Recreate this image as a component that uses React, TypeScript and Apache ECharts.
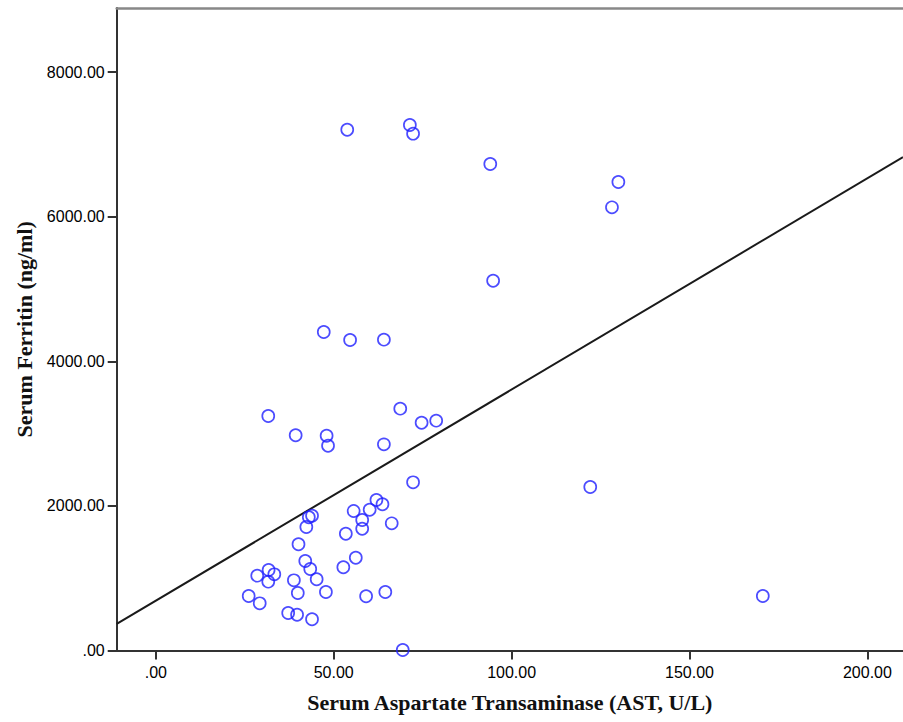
import React, { useEffect, useRef } from "react";
import * as echarts from "echarts";

const X_TICKS = [0, 50, 100, 150, 200];
const Y_TICKS = [0, 2000, 4000, 6000, 8000];
const X_MIN = -11;
const X_MAX = 210;
const Y_MIN = 0;
const Y_MAX = 8885;

const AST = [
  53.8, 71.4, 72.3, 94.0, 130.0, 128.2, 94.8, 47.2, 54.6, 64.1, 31.6, 39.3, 48.0, 48.4, 64.1,
  68.7, 74.7, 78.8, 72.3, 122.1, 170.6, 62.0, 63.7, 55.6, 60.1, 43.9, 43.0, 42.3, 58.0, 58.0,
  66.3, 53.4, 40.1, 56.2, 52.7, 42.0, 43.4, 45.2, 47.8, 38.8, 39.9, 31.7, 33.3, 28.5, 31.6,
  26.1, 29.2, 37.2, 39.7, 43.9, 59.1, 64.5, 69.4,
];
const FERRITIN = [
  7202, 7267, 7147, 6728, 6479, 6129, 5114, 4405, 4294, 4299, 3244, 2977, 2971, 2833, 2852,
  3345, 3151, 3179, 2327, 2262, 755, 2082, 2023, 1930, 1948, 1865, 1843, 1709, 1806, 1685,
  1760, 1616, 1470, 1284, 1152, 1239, 1128, 986, 810, 972, 796, 1114, 1055, 1036, 953,
  755, 654, 520, 496, 433, 751, 810, 8,
];
const FIT_INTERCEPT = 690;
const FIT_SLOPE = 29.2;

const fmt = (v: number) => (v === 0 ? ".00" : v.toFixed(2));

export default function App() {
  const ref = useRef<HTMLDivElement>(null);
  useEffect(() => {
    if (!ref.current) return;
    const chart = echarts.init(ref.current, undefined, { renderer: "svg" });
    const points = AST.map((x, i) => [x, FERRITIN[i]]);
    const fit = [
      [X_MIN, FIT_INTERCEPT + FIT_SLOPE * X_MIN],
      [X_MAX, FIT_INTERCEPT + FIT_SLOPE * X_MAX],
    ];
    const labelStyle = {
      color: "#000",
      fontFamily: "Liberation Sans, Arial, sans-serif",
      fontSize: 16,
    };
    const titleStyle = {
      color: "#111",
      fontFamily: "Liberation Serif, Times New Roman, serif",
      fontWeight: "bold" as const,
      fontSize: 22,
    };
    chart.setOption({
      animation: false,
      backgroundColor: "#fff",
      grid: { left: 116.7, top: 8, right: 0, bottom: 71.4 },
      xAxis: [
        {
          type: "value",
          min: X_MIN,
          max: X_MAX,
          name: "Serum Aspartate Transaminase (AST, U/L)",
          nameLocation: "middle",
          nameGap: 41,
          nameTextStyle: titleStyle,
          splitLine: { show: false },
          axisLine: { show: true, onZero: false, lineStyle: { color: "#333", width: 2 } },
          axisTick: {
            show: true,
            length: 9,
            customValues: X_TICKS,
            lineStyle: { color: "#333", width: 2 },
          },
          axisLabel: { ...labelStyle, margin: 14, customValues: X_TICKS, formatter: fmt },
        },
        {
          type: "value",
          position: "top",
          min: X_MIN,
          max: X_MAX,
          splitLine: { show: false },
          axisLine: { show: true, onZero: false, lineStyle: { color: "#888", width: 2.5 } },
          axisTick: { show: false },
          axisLabel: { show: false },
        },
      ],
      yAxis: {
        type: "value",
        min: Y_MIN,
        max: Y_MAX,
        name: "Serum Ferritin (ng/ml)",
        nameLocation: "middle",
        nameGap: 80,
        nameTextStyle: titleStyle,
        splitLine: { show: false },
        axisLine: { show: true, onZero: false, lineStyle: { color: "#333", width: 2 } },
        axisTick: {
          show: true,
          length: 9,
          customValues: Y_TICKS,
          lineStyle: { color: "#333", width: 2 },
        },
        axisLabel: { ...labelStyle, margin: 12, customValues: Y_TICKS, formatter: fmt },
      },
      series: [
        {
          type: "line",
          data: fit,
          symbol: "none",
          lineStyle: { color: "#1a1a1a", width: 2 },
          z: 2,
        },
        {
          type: "scatter",
          data: points,
          symbol: "circle",
          symbolSize: 12,
          itemStyle: { color: "transparent", borderColor: "#1f1fff", borderWidth: 1.7 },
          z: 3,
        },
      ],
    });
    return () => chart.dispose();
  }, []);
  return (
    <div
      ref={ref}
      style={{ position: "fixed", left: 0, top: 0, width: 903, height: 722, background: "#fff" }}
    />
  );
}
